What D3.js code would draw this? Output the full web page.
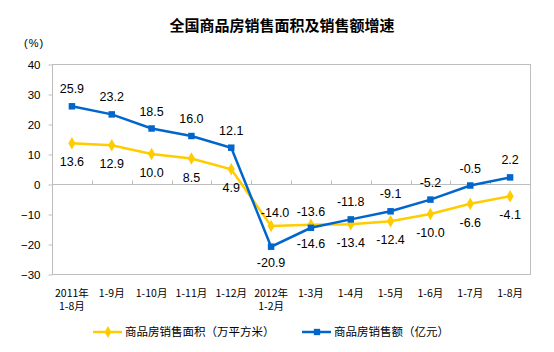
<!DOCTYPE html>
<html>
<head>
<meta charset="utf-8">
<script src="https://cdn.jsdelivr.net/npm/d3@7"></script>
<style>
  body { margin: 0; background: #fff; }
  svg { display: block; }
</style>
</head>
<body>
<div id="chart"></div>
<script>
// 类别与数据
var categories = [["2011年", "1-8月"], ["1-9月"], ["1-10月"], ["1-11月"], ["1-12月"], ["2012年", "1-2月"],
                  ["1-3月"], ["1-4月"], ["1-5月"], ["1-6月"], ["1-7月"], ["1-8月"]];
var areaGrowth = [13.6, 12.9, 10.0, 8.5, 4.9, -14.0, -13.6, -13.4, -12.4, -10.0, -6.6, -4.1];
var salesGrowth = [25.9, 23.2, 18.5, 16.0, 12.1, -20.9, -14.6, -11.8, -9.1, -5.2, -0.5, 2.2];
// label above (1) or below (-1)
var areaLabelSide = [-1, -1, -1, -1, -1, 1, 1, -1, -1, -1, -1, -1];
var salesLabelSide = [1, 1, 1, 1, 1, -1, -1, 1, 1, 1, 1, 1];
var yTicks = [40, 30, 20, 10, 0, -10, -20, -30];
var seriesNames = ["商品房销售面积（万平方米）", "商品房销售额（亿元）"];

var W = 554, H = 352;
var plotL = 52, plotR = 530, plotT = 64, plotB = 274;

var svg = d3.select("#chart").append("svg")
  .attr("width", W)
  .attr("height", H);

var x = d3.scaleBand().domain(d3.range(categories.length)).range([plotL, plotR]);
var y = d3.scaleLinear().domain([-30, 40]).range([plotB, plotT]);
var cx = function(i) { return x(i) + x.bandwidth() / 2; };

var numFont = "'Liberation Sans', Arial, sans-serif";
var cjkFont = "'Noto Sans CJK SC', sans-serif";

// title
svg.append("text")
  .attr("x", 282).attr("y", 31)
  .attr("text-anchor", "middle")
  .style("font-family", cjkFont)
  .style("font-size", "15px")
  .style("font-weight", "bold")
  .text("全国商品房销售面积及销售额增速");

svg.append("text")
  .attr("x", 24).attr("y", 47)
  .style("font-family", numFont)
  .style("font-size", "11px")
  .style("letter-spacing", "1px")
  .text("(%)");

// plot border
svg.append("rect")
  .attr("x", plotL + 0.5).attr("y", plotT + 0.5)
  .attr("width", plotR - plotL).attr("height", plotB - plotT)
  .attr("fill", "none").attr("stroke", "#bdbdbd");

// y axis
var yAxis = d3.axisLeft(y).tickValues(yTicks).tickSize(4).tickPadding(8);
var gy = svg.append("g").attr("transform", "translate(" + (plotL + 0.5) + ",0.5)").call(yAxis);
gy.select(".domain").remove();
gy.selectAll(".tick line").attr("stroke", "#bdbdbd");
gy.selectAll(".tick text")
  .style("font-family", numFont)
  .style("font-size", "11.5px")
  .attr("fill", "#000");

// zero line with upward ticks at category boundaries
var zeroY = Math.round(y(0)) + 0.5;
svg.append("line")
  .attr("x1", plotL).attr("x2", plotR)
  .attr("y1", zeroY).attr("y2", zeroY)
  .attr("stroke", "#bdbdbd");
svg.selectAll("line.xtick").data(d3.range(1, categories.length)).enter()
  .append("line").attr("class", "xtick")
  .attr("x1", function(d) { return Math.round(x(d)) + 0.5; })
  .attr("x2", function(d) { return Math.round(x(d)) + 0.5; })
  .attr("y1", zeroY).attr("y2", zeroY - 4)
  .attr("stroke", "#bdbdbd");

// category labels, one text per line
var catLines = [];
categories.forEach(function(c, i) {
  c.forEach(function(t, k) { catLines.push({i: i, k: k, t: t}); });
});
svg.selectAll("text.cat").data(catLines).enter()
  .append("text").attr("class", "cat")
  .attr("x", function(d) { return cx(d.i); })
  .attr("y", function(d) { return 297 + d.k * 12.5; })
  .attr("text-anchor", "middle")
  .style("font-family", cjkFont)
  .style("font-size", "10.5px")
  .text(function(d) { return d.t; });

var yellow = "#FFCC00", blue = "#0066CC";

function drawSeries(vals, color, shape, sides, offsets) {
  var line = d3.line().x(function(d, i) { return cx(i); }).y(function(d) { return y(d); });
  svg.append("path").datum(vals)
    .attr("d", line)
    .attr("fill", "none")
    .attr("stroke", color)
    .attr("stroke-width", 2.5);
  var sym = d3.symbol().type(shape).size(shape === d3.symbolDiamond ? 45 : 42);
  svg.selectAll(null).data(vals).enter()
    .append("path")
    .attr("d", sym)
    .attr("fill", color)
    .attr("transform", function(d, i) { return "translate(" + cx(i) + "," + y(d) + ")"; });
  svg.selectAll(null).data(vals).enter()
    .append("text")
    .attr("x", function(d, i) { return cx(i) + (sides[i] > 0 && d < 0 && i === 5 ? 4 : 0); })
    .attr("y", function(d, i) { return y(d) + (sides[i] > 0 ? -offsets[0] : offsets[1]); })
    .attr("text-anchor", "middle")
    .style("font-family", numFont)
    .style("font-size", "12.5px")
    .attr("fill", "#000")
    .text(function(d) { return d.toFixed(1); });
}

drawSeries(areaGrowth, yellow, d3.symbolDiamond, areaLabelSide, [9, 23]);
drawSeries(salesGrowth, blue, d3.symbolSquare, salesLabelSide, [13, 20]);

// legend
var legend = [{name: seriesNames[0], color: yellow, shape: d3.symbolDiamond, x0: 93},
              {name: seriesNames[1], color: blue, shape: d3.symbolSquare, x0: 302}];
var lg = svg.selectAll("g.legend").data(legend).enter()
  .append("g").attr("class", "legend")
  .attr("transform", function(d) { return "translate(" + d.x0 + ",332)"; });
lg.append("line").attr("x1", 0).attr("x2", 29).attr("y1", 0).attr("y2", 0)
  .attr("stroke", function(d) { return d.color; }).attr("stroke-width", 2.5);
lg.append("path")
  .attr("d", function(d) { return d3.symbol().type(d.shape).size(40)(); })
  .attr("transform", "translate(15,0)")
  .attr("fill", function(d) { return d.color; });
lg.append("text")
  .attr("x", 32).attr("y", 4)
  .style("font-family", cjkFont)
  .style("font-size", "11.5px")
  .text(function(d) { return d.name; });
</script>
</body>
</html>
